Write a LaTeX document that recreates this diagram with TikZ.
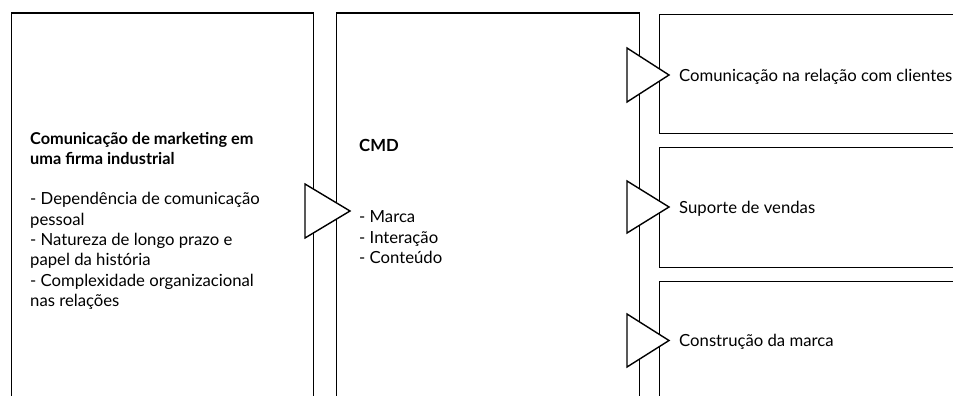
\documentclass[tikz,border=0pt]{standalone}
\usepackage{fontspec}
\setmainfont{Lato}
\begin{document}
\begin{tikzpicture}[x=1pt,y=-1pt,
  box/.style={draw, line width=1.4pt, inner sep=0pt, anchor=north west},
  tri/.style={draw, fill=white, line width=1.4pt, line join=miter},
  txt/.style={inner sep=0pt, anchor=base west, align=left, font=\fontsize{16.7}{20.3}\selectfont}]
\useasboundingbox (0,0) rectangle (953,396);
\clip (0,0) rectangle (953,396);
% boxes
\node[box, minimum width=302pt, minimum height=420pt] (lbox) at (11,12.5) {};
\node[box, minimum width=303.5pt, minimum height=420pt] (mbox) at (335.5,12.5) {};
\node[box, minimum width=330pt, minimum height=119pt] (rbox1) at (659,14) {};
\node[box, minimum width=330pt, minimum height=120pt] (rbox2) at (659,147) {};
\node[box, minimum width=330pt, minimum height=140pt] (rbox3) at (659,281) {};
% connector triangles
\coordinate (t1) at (350,211);
\coordinate (t2) at (669,75);
\coordinate (t3) at (669,207);
\coordinate (t4) at (669,340.5);
\draw[tri] (305,184) -- (t1) -- (305,238) -- cycle;
\draw[tri] (627,48) -- (t2) -- (627,102) -- cycle;
\draw[tri] (627,181) -- (t3) -- (627,233) -- cycle;
\draw[tri] (627,314) -- (t4) -- (627,367) -- cycle;
% texts (base anchor = baseline of last line)
\node[txt] (ltext) at (30,306.4) {{\fontsize{16.3}{20.3}\selectfont\bfseries Comunicação de marketing em}\\{\fontsize{16.3}{20.3}\selectfont\bfseries uma firma industrial}\\[20.3pt]- Dependência de comunicação\\pessoal\\- Natureza de longo prazo e\\papel da história\\- Complexidade organizacional\\nas relações};
\node[txt, font=\fontsize{16.7}{20.3}\selectfont\bfseries] (cmd) at (359,151) {CMD};
\node[txt] (cmdlist) at (359,263.5) {- Marca\\- Interação\\- Conteúdo};
\node[txt] (r1text) at (679,81.5) {Comunicação na relação com clientes};
\node[txt] (r2text) at (679,213.5) {Suporte de vendas};
\node[txt] (r3text) at (679,346.5) {Construção da marca};
\end{tikzpicture}
\end{document}
